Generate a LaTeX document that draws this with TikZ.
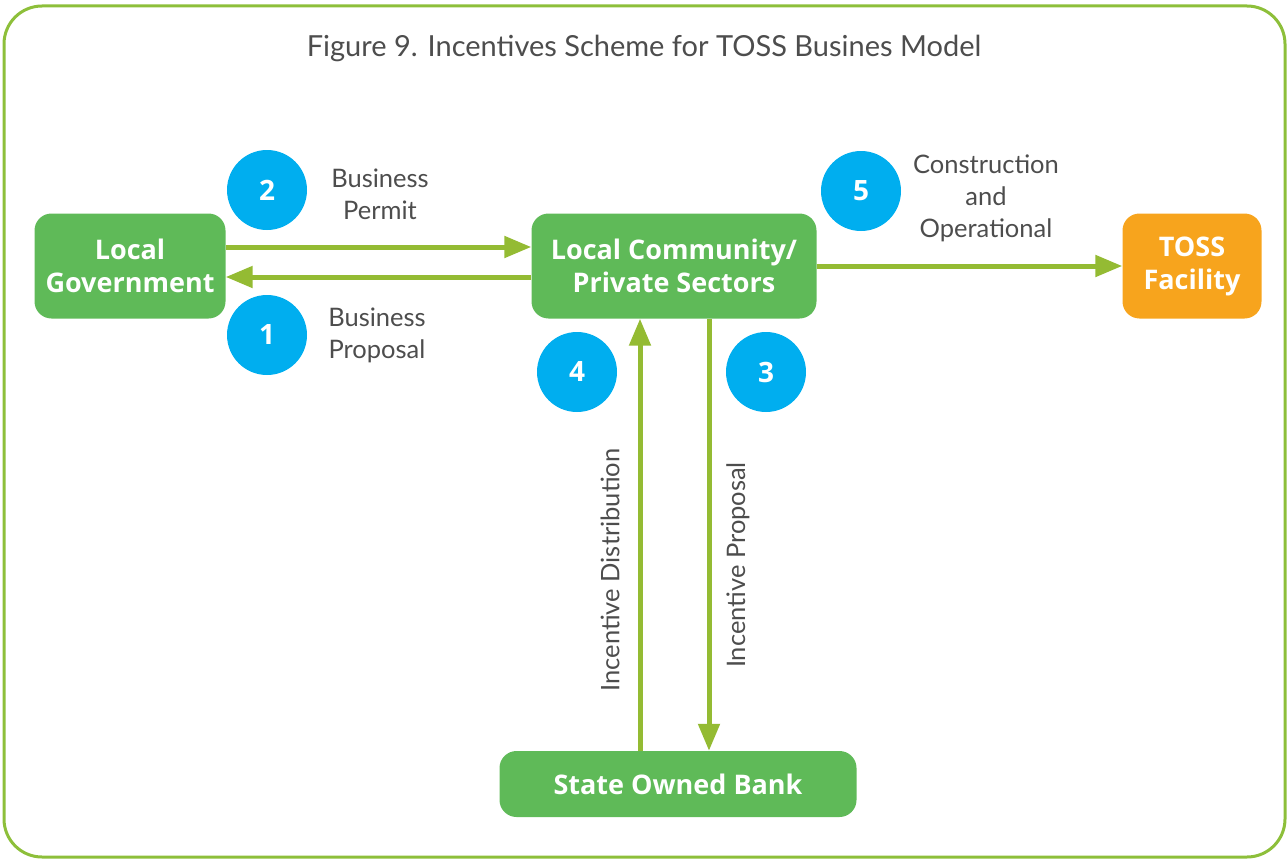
\documentclass[tikz,border=0pt]{standalone}
\usepackage{fontspec}
\setmainfont{Lato}
\newfontfamily\boxfont{Open Sans}
\usetikzlibrary{arrows.meta}
\definecolor{boxgreen}{HTML}{5FBA58}
\definecolor{arrowgreen}{HTML}{94BB33}
\definecolor{stepblue}{HTML}{00AEEF}
\definecolor{tossorange}{HTML}{F7A41D}
\definecolor{textgray}{HTML}{4D4D4D}
\definecolor{framegreen}{HTML}{8DBF3A}

\begin{document}
\begin{tikzpicture}[x=1pt,y=-1pt,
    actor/.style={rounded corners=17pt, fill=boxgreen, text=white, align=center,
      inner sep=0pt, minimum height=105pt, font=\boxfont\fontsize{27}{33}\selectfont\bfseries},
    num/.style={circle, fill=stepblue, text=white, minimum size=80pt, inner sep=0pt,
      font=\boxfont\fontsize{28}{33}\selectfont\bfseries},
    lbl/.style={text=textgray, align=center, font=\fontsize{25.5}{32}\selectfont},
    flow/.style={draw=arrowgreen, line width=5pt, -{Triangle[length=27pt,width=21pt]}}]
    \useasboundingbox (0,0) rectangle (1288,859);
    \draw [framegreen, line width=3pt, rounded corners=38pt] (4,6) rectangle (1285,857);
    \node [lbl, font=\fontsize{29}{34}\selectfont] (title) at (644,48) {Figure 9. Incentives Scheme for TOSS Busines Model};
    \node [actor, minimum width=191pt] (gov) at (130,266) {Local\\Government};
    \node [actor, minimum width=285pt] (comm) at (674,266) {Local Community/\\Private Sectors};
    \node [actor, minimum width=139pt, fill=tossorange] (toss) at (1192,266) {TOSS\\Facility};
    \node [actor, minimum width=357pt, minimum height=66pt] (bank) at (678,784) {State Owned Bank};
    \node [num] (n1) at (267,335) {1};
    \node [num] (n2) at (267,190) {2};
    \node [num] (n3) at (766,372) {3};
    \node [num] (n4) at (577,372) {4};
    \node [num] (n5) at (861,191) {5};
    \node [lbl] (permit) at (380,194) {Business\\Permit};
    \node [lbl] (proposal) at (377,335) {Business\\Proposal};
    \node [lbl] (constr) at (986,198) {Construction\\and\\Operational};
    \node [lbl, rotate=90] (distrib) at (610,570) {Incentive Distribution};
    \node [lbl, rotate=90] (incprop) at (738,565) {Incentive Proposal};
    \draw [flow] ([yshift=19pt]gov.east) -- ([yshift=19pt]comm.west);
    \draw [flow] ([yshift=-11pt]comm.west) -- ([yshift=-11pt]gov.east);
    \draw [flow] (comm) -- (toss);
    \draw [flow] ([xshift=-38pt]bank.north) -- ([xshift=-34pt]comm.south);
    \draw [flow] ([xshift=35pt]comm.south) -- ([xshift=31pt]bank.north);
  \end{tikzpicture}
\end{document}
